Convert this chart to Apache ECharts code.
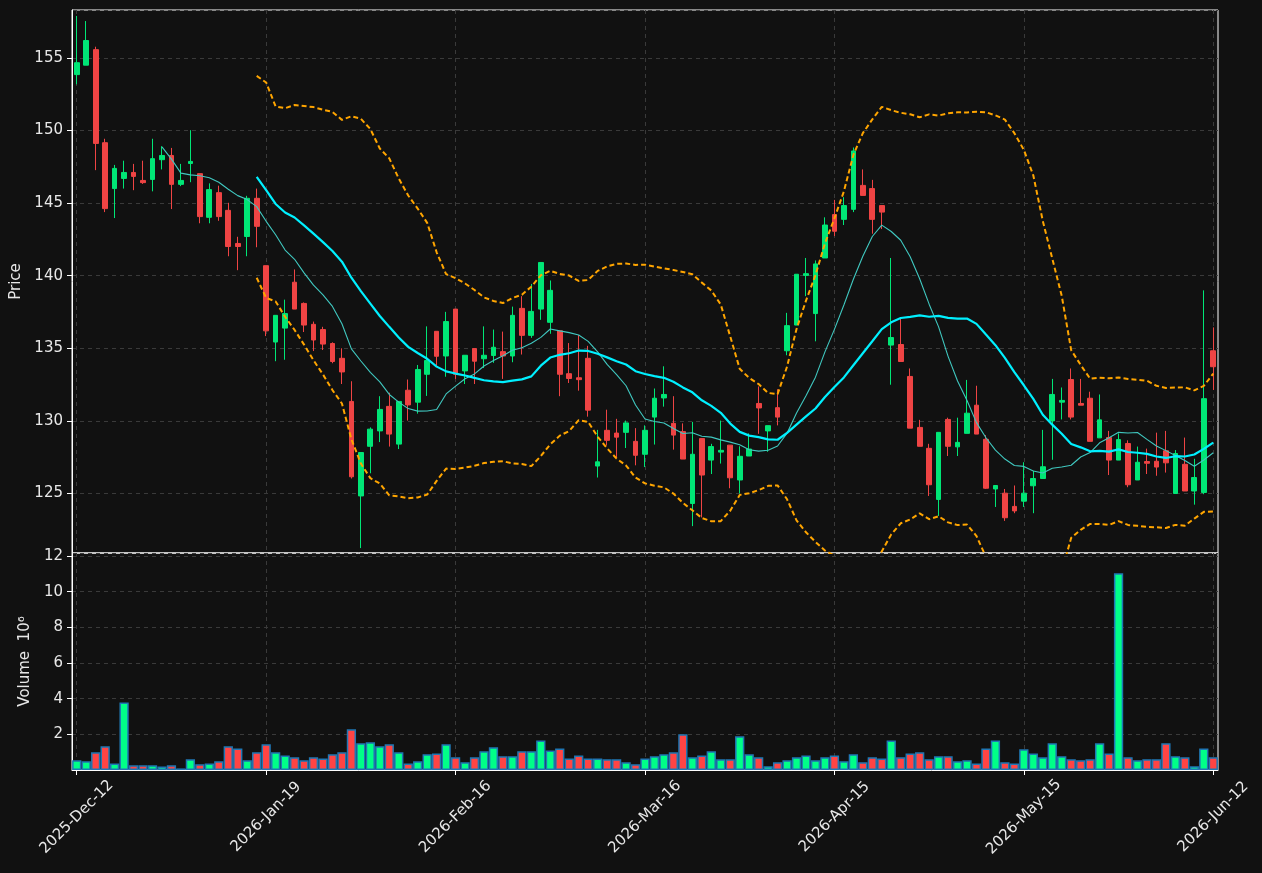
<!DOCTYPE html>
<html>
<head>
<meta charset="utf-8">
<script src="https://cdn.jsdelivr.net/npm/echarts@6/dist/echarts.min.js"></script>
<style>
  html, body { margin: 0; padding: 0; background: #111111; }
  #main { width: 1262px; height: 873px; }
</style>
</head>
<body>
<div id="main"></div>
<script>
// tick labels, one every 20 bars
const tickLabels = ['2025-Dec-12', '2026-Jan-19', '2026-Feb-16', '2026-Mar-16', '2026-Apr-15', '2026-May-15', '2026-Jun-12'];
const tickEvery = 20;

// OHLC
const opens = [153.85,154.5,155.57,149.16,146.0,146.70,147.11,146.56,146.63,147.99,
  148.28,146.29,147.73,147.03,144.02,145.72,144.50,142.22,142.70,145.33,
  140.69,135.43,136.39,139.55,138.09,136.65,136.29,135.33,134.31,131.34,
  124.83,128.25,129.31,131.0,128.40,132.11,131.29,133.21,136.17,134.47,
  137.70,133.44,134.98,134.28,134.50,134.77,134.47,137.75,135.89,137.70,
  136.79,136.20,133.25,132.97,134.31,126.89,129.35,129.16,129.21,128.59,
  127.70,130.26,131.58,129.83,129.26,124.31,128.78,127.30,127.85,128.33,
  125.93,127.58,131.20,129.31,130.91,134.83,136.60,140.02,137.39,141.22,
  144.21,143.88,144.57,146.22,146.0,144.83,135.22,135.26,133.06,129.55,
  128.11,124.59,130.10,128.21,129.14,131.08,128.73,125.31,125.02,124.11,
  124.47,125.53,126.03,130.0,131.29,132.85,131.20,131.56,128.83,128.85,
  127.30,128.44,125.93,127.20,127.22,127.94,125.0,127.01,125.17,125.07,
  134.83];
const closes = [154.67,156.2,149.11,144.62,147.39,147.11,146.84,146.41,148.06,148.28,
  146.29,146.56,147.87,144.07,145.93,144.07,142.01,142.01,145.33,143.40,
  136.20,137.27,137.39,137.70,136.60,135.57,135.29,134.09,133.37,126.15,
  127.82,129.43,130.79,129.09,131.34,131.10,133.54,134.16,134.45,136.84,
  133.21,134.52,134.11,134.52,135.07,134.47,137.27,135.89,137.54,140.91,
  138.99,133.21,132.92,132.84,130.74,127.18,128.66,128.88,129.86,127.63,
  129.35,131.56,131.82,129.02,127.37,127.70,126.27,128.23,127.97,126.08,
  127.56,128.06,130.89,129.67,130.26,136.56,140.10,140.14,140.81,143.49,
  143.06,144.83,148.59,145.53,143.88,144.38,135.74,134.09,129.50,128.25,
  125.60,129.21,128.25,128.52,130.53,129.09,125.36,125.55,123.33,123.80,
  125.02,126.03,126.84,131.82,131.41,130.26,131.08,128.59,130.07,127.30,
  128.71,125.60,127.15,127.08,126.82,127.11,127.75,125.17,126.10,131.53,
  133.73];
const lows = [153.18,154.5,147.27,144.38,143.97,146.0,145.89,146.32,145.81,147.32,
  144.59,146.17,146.44,143.61,143.61,143.78,141.34,140.38,141.34,141.96,
  135.84,134.11,134.21,137.70,136.12,134.81,134.88,133.97,132.54,126.03,
  121.24,126.39,128.54,128.23,128.06,130.02,130.50,131.72,133.83,133.04,
  132.89,132.54,132.54,133.64,134.0,132.89,134.04,134.57,135.72,136.96,
  136.0,131.70,132.61,132.08,130.29,126.10,128.30,127.46,128.13,126.94,
  126.82,128.37,130.98,128.02,127.37,122.75,123.35,126.34,127.06,125.36,
  125.0,127.58,129.11,127.87,129.69,134.52,136.60,138.59,135.48,141.22,
  142.73,143.49,144.38,145.53,142.89,143.21,132.49,134.09,129.50,128.25,
  124.83,123.45,127.58,127.58,129.14,129.09,125.31,124.07,123.11,123.64,
  124.07,123.64,126.03,127.32,130.10,130.10,131.08,128.59,128.83,126.27,
  127.30,125.43,125.93,126.34,126.22,126.44,125.0,125.17,124.23,124.95,
  132.13];
const highs = [157.89,157.54,155.77,149.43,147.63,147.92,147.70,147.92,149.43,148.92,
  148.80,147.70,150.02,147.03,146.36,146.2,145.02,142.68,145.50,146.0,
  140.69,137.27,138.35,140.43,138.16,136.84,136.48,135.41,135.0,132.73,
  127.82,129.55,131.70,131.94,131.34,132.85,133.85,136.51,136.17,137.51,
  137.70,134.52,134.98,136.51,136.29,136.15,137.87,138.59,139.43,140.91,
  139.67,136.2,135.36,135.91,135.17,129.38,130.77,130.14,130.02,129.50,
  129.69,132.23,133.76,131.70,129.83,129.93,128.78,128.42,130.02,128.33,
  128.25,129.14,132.37,129.67,132.18,137.44,140.10,141.22,141.05,144.02,
  145.22,145.41,148.83,147.32,146.60,144.83,141.22,137.03,133.61,130.07,
  128.42,129.21,130.22,130.22,132.82,132.42,129.02,125.55,125.31,125.55,
  127.15,126.56,129.38,132.89,132.30,133.61,132.89,132.01,131.82,129.31,
  129.14,128.66,128.23,128.09,129.19,129.31,127.99,128.85,127.39,138.99,
  136.44];
// volume in millions
const volumes = [0.54,0.49,0.99,1.33,0.37,3.79,0.26,0.26,0.26,0.19,
  0.26,0.09,0.60,0.32,0.37,0.49,1.33,1.21,0.54,0.99,
  1.44,0.99,0.82,0.71,0.54,0.71,0.65,0.88,0.99,2.28,
  1.50,1.55,1.33,1.44,0.99,0.37,0.49,0.88,0.93,1.44,
  0.71,0.43,0.71,1.05,1.27,0.77,0.77,1.05,1.05,1.66,
  1.10,1.21,0.65,0.82,0.65,0.65,0.60,0.60,0.43,0.32,
  0.65,0.77,0.88,0.99,2.0,0.71,0.82,1.05,0.60,0.60,
  1.89,0.88,0.71,0.21,0.43,0.54,0.71,0.82,0.54,0.71,
  0.82,0.49,0.88,0.43,0.71,0.65,1.66,0.71,0.93,0.99,
  0.60,0.77,0.77,0.49,0.54,0.37,1.21,1.66,0.43,0.37,
  1.16,0.93,0.71,1.50,0.77,0.60,0.54,0.60,1.50,0.93,
  11.03,0.71,0.54,0.60,0.60,1.50,0.77,0.71,0.21,1.21,
  0.71];

const UP = '#00e676', DOWN = '#ef4444';
const VOL_UP = '#00ff88', VOL_DOWN = '#ff4444';

// category slots; only every 20th carries a date label
const categories = opens.map((_, i) => (i % tickEvery === 0 ? tickLabels[i / tickEvery] : ''));

function movingAvg(src, n) {
  return src.map((_, i) => {
    if (i < n - 1) return null;
    let s = 0;
    for (let k = i - n + 1; k <= i; k++) s += src[k];
    return +(s / n).toFixed(3);
  });
}
function band(src, n, mult) {
  const mid = movingAvg(src, n);
  return src.map((_, i) => {
    if (mid[i] == null) return null;
    let v = 0;
    for (let k = i - n + 1; k <= i; k++) v += (src[k] - mid[i]) ** 2;
    return +(mid[i] + mult * Math.sqrt(v / n)).toFixed(3);
  });
}

const ma10 = movingAvg(closes, 10);
const ma20 = movingAvg(closes, 20);
const bbUpper = band(closes, 20, 2);
const bbLower = band(closes, 20, -2);

const candles = opens.map((o, i) => [o, closes[i], lows[i], highs[i]]);
const volBars = volumes.map((v, i) => ({
  value: v,
  itemStyle: { color: closes[i] >= opens[i] ? VOL_UP : VOL_DOWN }
}));

const showTick = (i) => i % tickEvery === 0;
const gridLine = { show: true, interval: showTick, alignWithLabel: true,
  lineStyle: { color: '#3a3a3a', type: [4, 4], width: 1 } };
const yGridLine = { show: true, lineStyle: { color: '#3a3a3a', type: [4, 4], width: 1 } };
const labelFont = { color: '#e8e8e8', fontSize: 15, fontFamily: 'DejaVu Sans' };

const chart = echarts.init(document.getElementById('main'), null, { renderer: 'canvas' });

chart.setOption({
  backgroundColor: '#111111',
  animation: false,
  grid: [
    { left: 72, top: 10, width: 1146, height: 543, show: true, borderColor: '#ffffff', borderWidth: 1, backgroundColor: 'transparent' },
    { left: 72, top: 553, width: 1146, height: 217, show: true, borderColor: '#ffffff', borderWidth: 1, backgroundColor: 'transparent' }
  ],
  xAxis: [
    {
      type: 'category', gridIndex: 0, data: categories, boundaryGap: true,
      axisLine: { show: false }, axisTick: { show: false }, axisLabel: { show: false },
      splitLine: gridLine
    },
    {
      type: 'category', gridIndex: 1, data: categories, boundaryGap: true,
      axisLine: { lineStyle: { color: '#ffffff' } },
      axisTick: { show: true, interval: showTick, alignWithLabel: true, length: 5, lineStyle: { color: '#ffffff' } },
      // matplotlib-style: rotated label centred under its tick
      axisLabel: Object.assign({ interval: showTick, rotate: 45, margin: 47, align: 'center', verticalAlign: 'middle' }, labelFont),
      splitLine: gridLine
    }
  ],
  yAxis: [
    {
      type: 'value', gridIndex: 0, min: 120.9, max: 158.3, splitNumber: 7, scale: true,
      name: 'Price', nameLocation: 'middle', nameGap: 45, nameRotate: 90,
      nameTextStyle: labelFont,
      axisLine: { show: true, lineStyle: { color: '#ffffff' } },
      axisTick: { show: true, length: 5, lineStyle: { color: '#ffffff' } },
      axisLabel: Object.assign({ showMinLabel: false, showMaxLabel: false, margin: 9 }, labelFont),
      splitLine: yGridLine
    },
    {
      type: 'value', gridIndex: 1, min: 0, max: 12.17, splitNumber: 6,
      name: 'Volume  10⁶', nameLocation: 'middle', nameGap: 38, nameRotate: 90,
      nameTextStyle: labelFont,
      axisLine: { show: true, lineStyle: { color: '#ffffff' } },
      axisTick: { show: true, length: 5, lineStyle: { color: '#ffffff' } },
      axisLabel: Object.assign({ showMinLabel: false, showMaxLabel: false, margin: 9 }, labelFont),
      splitLine: yGridLine
    }
  ],
  series: [
    {
      name: 'OHLC', type: 'candlestick', xAxisIndex: 0, yAxisIndex: 0,
      data: candles, barWidth: '55%',
      itemStyle: { color: UP, color0: DOWN, borderColor: UP, borderColor0: DOWN, borderWidth: 1 }
    },
    {
      name: 'MA10', type: 'line', xAxisIndex: 0, yAxisIndex: 0, data: ma10,
      showSymbol: false, lineStyle: { color: '#40c8c0', width: 1.1 }, z: 3
    },
    {
      name: 'MA20', type: 'line', xAxisIndex: 0, yAxisIndex: 0, data: ma20,
      showSymbol: false, lineStyle: { color: '#00f0ff', width: 2.2 }, z: 3
    },
    {
      name: 'BB upper', type: 'line', xAxisIndex: 0, yAxisIndex: 0, data: bbUpper,
      showSymbol: false, lineStyle: { color: '#ffa500', width: 2, type: [5, 3] }, z: 3
    },
    {
      name: 'BB lower', type: 'line', xAxisIndex: 0, yAxisIndex: 0, data: bbLower,
      showSymbol: false, lineStyle: { color: '#ffa500', width: 2, type: [5, 3] }, z: 3
    },
    {
      name: 'Volume', type: 'bar', xAxisIndex: 1, yAxisIndex: 1, data: volBars,
      barWidth: '98%', itemStyle: { borderColor: '#1f77b4', borderWidth: 1.5 }
    }
  ]
});
</script>
</body>
</html>
